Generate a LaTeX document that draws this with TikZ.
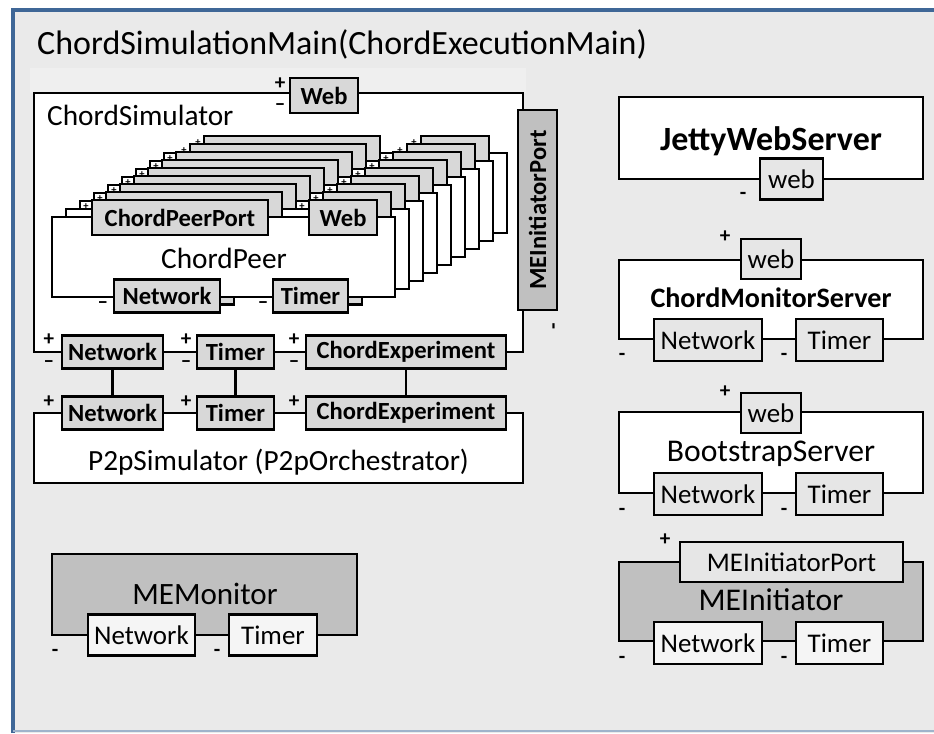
\documentclass[tikz,border=0pt]{standalone}
\usepackage{fontspec}
\setmainfont{Carlito}
\usepackage{xcolor}
\usetikzlibrary{positioning}

\definecolor{framebg}{HTML}{EAEAEA}
\definecolor{frameblue}{HTML}{3F6797}
\definecolor{bandgray}{HTML}{EFEFEF}
\definecolor{portgray}{HTML}{D8D8D8}
\definecolor{lightport}{HTML}{E6E6E6}
\definecolor{palegray}{HTML}{F5F5F5}
\definecolor{compdark}{HTML}{C0C0C0}

\newcommand{\pxu}{0.03cm}

\tikzset{
    sz/.style 2 args={minimum width=#1*\pxu, minimum height=#2*\pxu},
    compbox/.style={draw, line width=2.4pt, fill=white, inner sep=0pt},
    darkbox/.style={compbox, fill=compdark},
    portbox/.style={draw, line width=2.4pt, fill=portgray, inner sep=0pt,
        font=\fontsize{21}{24}\selectfont\bfseries},
    srvport/.style={portbox, fill=lightport, font=\fontsize{23}{26}\selectfont},
    paleport/.style={srvport, fill=palegray},
    complabel/.style={inner sep=0pt, font=\fontsize{26}{28}\selectfont},
    sign/.style={inner sep=0pt, font=\fontsize{18}{18}\selectfont\bfseries},
    tinysign/.style={inner sep=0pt, font=\fontsize{9}{9}\selectfont\bfseries},
    wire/.style={line width=2.4pt}
}

\begin{document}
\begin{tikzpicture}[x=\pxu, y=-\pxu]
\useasboundingbox (0,0) rectangle (934,733);
\fill[white] (0,0) rectangle (934,733);
\fill[framebg] (13,10) rectangle (934,733);
\draw[frameblue, line width=3.2pt] (13,733) -- (13,10) -- (934,10);
\draw[frameblue!50, line width=1pt] (13,731) -- (934,731);

\node[anchor=base west, inner sep=0pt, font=\fontsize{29}{32}\selectfont] (title) at (37,55) {ChordSimulationMain(ChordExecutionMain)};

% ChordSimulator
\fill[bandgray] (30,68) rectangle (526,93);
\node[compbox, sz={489}{259}] (csim) at (278.5,222.5) {};
\node[complabel, anchor=base west, font=\fontsize{25}{28}\selectfont] (csimlabel) at (47,126) {ChordSimulator};
\node[portbox, sz={68}{35}] (cweb) at (324,95.5) {Web};
\node[sign] (cwebplus) at (280,84) {+};
\node[sign] (cwebminus) at (280,107) {--};
\node[portbox, fill=compdark, rotate=90, sz={200}{39}] (cmeiport) at (537.5,210) {MEInitiatorPort};
\node[sign, rotate=90] (cmeiminus) at (556,326) {-};

\foreach \k in {8,7,...,0}{
  \begin{scope}[shift={(14*\k,-8*\k)}]
    \node[compbox, sz={343}{80}] (peer\k) at (223.5,257) {};
    \node[portbox, sz={176}{35}] (peerport\k) at (180,217.5) {\ifnum\k=0 ChordPeerPort\fi};
    \node[portbox, sz={68}{35}] (peerweb\k) at (343,217.5) {\ifnum\k=0 Web\fi};
    \node[portbox, sz={106}{33}] (peernet\k) at (167,296) {\ifnum\k=0 Network\fi};
    \node[portbox, sz={75}{33}] (peertimer\k) at (310.5,296) {\ifnum\k=0 Timer\fi};
    \node[tinysign] (pportplus\k) at (86,207) {+};
    \node[tinysign] (pwebplus\k) at (302,207) {+};
  \end{scope}
}
\node[complabel, font=\fontsize{25}{28}\selectfont] (peerlabel) at (224,258) {ChordPeer};
\node[sign] (pnetminus) at (103,305) {--};
\node[sign] (ptimerminus) at (263,305) {--};

\node[portbox, sz={101}{33}] (cnet) at (112.5,352) {Network};
\node[portbox, sz={77}{33}] (ctimer) at (235.5,352) {Timer};
\node[portbox, sz={200}{33}] (cexp) at (406,352) {ChordExperiment};
\foreach \n/\x in {net/49, timer/186, exp/294}{
  \node[sign] (c\n plus) at (\x,340) {+};
  \node[sign] (c\n minus) at (\x,364) {--};
}

% P2pSimulator
\node[compbox, sz={489}{70}] (p2p) at (278.5,448) {};
\node[complabel, font=\fontsize{25}{28}\selectfont] (p2plabel) at (278.5,462) {P2pSimulator (P2pOrchestrator)};
\node[portbox, sz={101}{33}] (pnet) at (112.5,413) {Network};
\node[portbox, sz={77}{33}] (ptimer) at (235.5,413) {Timer};
\node[portbox, sz={200}{33}] (pexp) at (406,413) {ChordExperiment};
\foreach \n/\x in {net/49, timer/186, exp/294}
  \node[sign] (p\n plus) at (\x,402) {+};

\draw[wire] (cnet) -- (pnet);
\draw[wire] (ctimer) -- (ptimer);
\draw[wire] (cexp) -- (pexp);

% JettyWebServer
\node[compbox, sz={304}{82}] (jetty) at (771,138) {};
\node[complabel, font=\fontsize{29}{30}\selectfont\bfseries] (jettylabel) at (771,141) {JettyWebServer};
\node[srvport, sz={63}{41}] (jettyweb) at (791.5,179) {web};
\node[sign] (jettyminus) at (743,196) {-};

% ChordMonitorServer
\node[compbox, sz={304}{79}] (cms) at (771,299.5) {};
\node[complabel, font=\fontsize{24}{28}\selectfont\bfseries] (cmslabel) at (771,298) {ChordMonitorServer};
\node[srvport, sz={60}{40}] (cmsweb) at (771,259) {web};
\node[srvport, sz={108}{42}] (cmsnet) at (708,340) {Network};
\node[srvport, sz={87}{42}] (cmstimer) at (839.5,340) {Timer};
\node[sign] (cmsplus) at (725,237) {+};
\node[sign] (cmsnetminus) at (622,357) {-};
\node[sign] (cmstimerminus) at (784,357) {-};

% BootstrapServer
\node[compbox, sz={304}{81}] (bss) at (771,452.5) {};
\node[complabel, font=\fontsize{27}{30}\selectfont] (bsslabel) at (771,454) {BootstrapServer};
\node[srvport, sz={60}{40}] (bssweb) at (771,413) {web};
\node[srvport, sz={108}{42}] (bssnet) at (708,494) {Network};
\node[srvport, sz={87}{42}] (bsstimer) at (839.5,494) {Timer};
\node[sign] (bssplus) at (725,392) {+};
\node[sign] (bssnetminus) at (622,512) {-};
\node[sign] (bsstimerminus) at (784,512) {-};

% MEInitiator
\node[darkbox, sz={304}{79}] (mei) at (771,601.5) {};
\node[complabel, font=\fontsize{27}{30}\selectfont] (meilabel) at (771,600) {MEInitiator};
\node[srvport, sz={223}{40}] (meiport) at (791.5,562) {MEInitiatorPort};
\node[paleport, sz={108}{42}] (meinet) at (708,643) {Network};
\node[paleport, sz={87}{42}] (meitimer) at (839.5,643) {Timer};
\node[sign] (meiplus) at (665,540) {+};
\node[sign] (meinetminus) at (622,660) {-};
\node[sign] (meitimerminus) at (784,660) {-};

% MEMonitor
\node[darkbox, sz={305}{81}] (mem) at (204.5,594.5) {};
\node[complabel, font=\fontsize{26.5}{30}\selectfont] (memlabel) at (205,594) {MEMonitor};
\node[paleport, sz={107}{41}] (memnet) at (141.5,635) {Network};
\node[paleport, sz={88}{41}] (memtimer) at (273,635) {Timer};
\node[sign] (memnetminus) at (55,653) {-};
\node[sign] (memtimerminus) at (217,653) {-};
\end{tikzpicture}
\end{document}
